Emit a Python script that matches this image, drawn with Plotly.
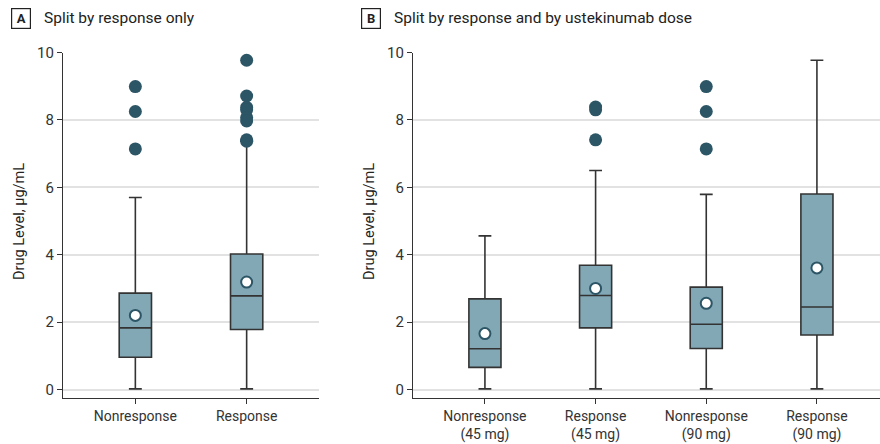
import plotly.graph_objects as go

# ---- Data ----
cats_a = ["Nonresponse", "Response"]
q1_a = [0.96, 1.78]
med_a = [1.83, 2.78]
q3_a = [2.86, 4.02]
lo_a = [0.02, 0.02]
hi_a = [5.70, 7.37]
mean_a = [2.20, 3.19]
out_a_x = ["Nonresponse"] * 3 + ["Response"] * 8
out_a_y = [8.99, 8.25, 7.14, 9.77, 8.71, 8.37, 8.30, 8.07, 7.97, 7.41, 7.37]

cats_b = ["Nonresponse<br>(45 mg)", "Response<br>(45 mg)", "Nonresponse<br>(90 mg)", "Response<br>(90 mg)"]
q1_b = [0.66, 1.83, 1.22, 1.62]
med_b = [1.21, 2.79, 1.94, 2.45]
q3_b = [2.69, 3.69, 3.04, 5.80]
lo_b = [0.02, 0.02, 0.02, 0.02]
hi_b = [4.56, 6.50, 5.79, 9.77]
mean_b = [1.66, 3.00, 2.56, 3.61]
out_b_x = [cats_b[1]] * 3 + [cats_b[2]] * 3
out_b_y = [8.38, 8.30, 7.41, 8.99, 8.25, 7.14]

y_ticks = [0, 2, 4, 6, 8, 10]

FONT = "Roboto, Arial, sans-serif"
BOX_FILL = "#82a8b6"
LINE = "#333333"
DOT = "#2c5565"

fig = go.Figure()

def add_panel(cats, q1, med, q3, lo, hi, mean, ox, oy, xa, ya):
    fig.add_trace(go.Box(
        x=cats, q1=q1, median=med, q3=q3, lowerfence=lo, upperfence=hi,
        boxpoints=False, width=0.29, whiskerwidth=0.4,
        fillcolor=BOX_FILL, line=dict(color=LINE, width=1.6),
        xaxis=xa, yaxis=ya, showlegend=False, hoverinfo="skip"))
    fig.add_trace(go.Scatter(
        x=ox, y=oy, mode="markers",
        marker=dict(color=DOT, size=13, line=dict(width=0)),
        xaxis=xa, yaxis=ya, showlegend=False))
    fig.add_trace(go.Scatter(
        x=cats, y=mean, mode="markers",
        marker=dict(color="white", size=11, line=dict(color=DOT, width=2)),
        xaxis=xa, yaxis=ya, showlegend=False))

add_panel(cats_a, q1_a, med_a, q3_a, lo_a, hi_a, mean_a, out_a_x, out_a_y, "x", "y")
add_panel(cats_b, q1_b, med_b, q3_b, lo_b, hi_b, mean_b, out_b_x, out_b_y, "x2", "y2")

W, H = 880, 444
ytop = 1 - 52.5 / H
ybot = 1 - 398 / H

yax = dict(range=[-0.25, 10], tickvals=y_ticks, showgrid=True, gridcolor="#e2e2e2",
           gridwidth=1.5, showline=True, linecolor=LINE, linewidth=1.2,
           ticks="outside", ticklen=5, tickcolor=LINE, zeroline=False,
           tickfont=dict(size=15, color="#333"), domain=[ybot, ytop], automargin=False)
xax = dict(showline=True, linecolor=LINE, linewidth=1.2, ticks="outside", ticklen=5,
           tickcolor=LINE, showgrid=False, tickfont=dict(size=14, color="#333"),
           type="category", automargin=False)

def ann_text(text, x, y, size=15, **kw):
    d = dict(text=text, x=x / W, y=1 - y / H, xref="paper", yref="paper",
             showarrow=False, font=dict(size=size, color="#222"))
    d.update(kw)
    return d

fig.update_layout(
    width=W, height=H, margin=dict(l=0, r=0, t=0, b=0),
    paper_bgcolor="white", plot_bgcolor="white",
    font=dict(family=FONT, color="#333"),
    xaxis=dict(xax, domain=[63 / W, 319 / W], range=[-0.65, 1.65], anchor="y"),
    yaxis=dict(yax, anchor="x"),
    xaxis2=dict(xax, domain=[413 / W, 1.0], range=[-0.65, 3.57], anchor="y2"),
    yaxis2=dict(yax, anchor="x2"),
    annotations=[
        ann_text("<b>A</b>", 20.5, 18.5, size=13, bordercolor="#222", borderwidth=1.2,
                 borderpad=2, width=14, height=15, xanchor="center", yanchor="middle"),
        ann_text("Split by response only", 42, 18.5, size=15.5, xanchor="left", yanchor="middle"),
        ann_text("<b>B</b>", 370.5, 18.5, size=13, bordercolor="#222", borderwidth=1.2,
                 borderpad=2, width=14, height=15, xanchor="center", yanchor="middle"),
        ann_text("Split by response and by ustekinumab dose", 392, 18.5, size=15.5,
                 xanchor="left", yanchor="middle"),
        ann_text("Drug Level, μg/mL", 19, 222, size=14.5, textangle=-90,
                 xanchor="center", yanchor="middle"),
        ann_text("Drug Level, μg/mL", 369, 222, size=14.5, textangle=-90,
                 xanchor="center", yanchor="middle"),
    ],
)

fig.write_html("out.html", config={"displayModeBar": False},
               post_script="document.body.style.margin='0';document.body.style.overflow='hidden';")
